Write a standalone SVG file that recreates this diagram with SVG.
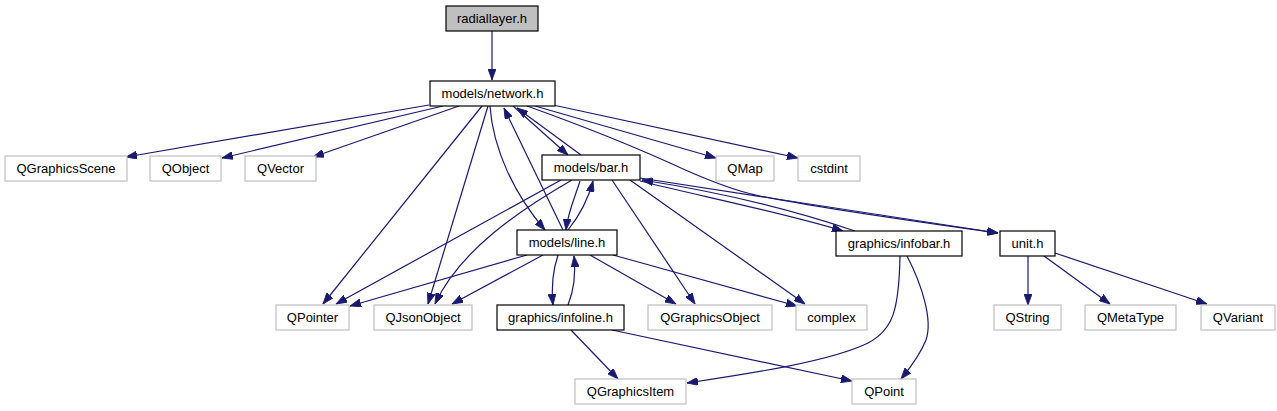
<svg xmlns="http://www.w3.org/2000/svg" width="1277" height="411" viewBox="0 0 1277 411">
<defs>
<style>
.n rect{fill:#fff;stroke:#000;stroke-width:1.2}
.x rect{fill:#fff;stroke:#bfbfbf;stroke-width:1.2}
.r rect{fill:#bfbfbf;stroke:#000;stroke-width:1.2}
text{font-family:"Liberation Sans",Arial,sans-serif;font-size:13px;fill:#000;text-anchor:middle}
#edges path{fill:none;stroke:#191970;stroke-width:1.2;marker-end:url(#a)}
</style>
<marker id="a" markerUnits="userSpaceOnUse" markerWidth="11" markerHeight="8" refX="11" refY="4" orient="auto">
<path d="M0,0 L11,4 L0,8 z" fill="#191970" stroke="#191970" stroke-width="0.8"/>
</marker>
</defs>
<rect width="1277" height="411" fill="#fff"/>
<g id="edges">
<path d="M492,31 L492,80"/>
<path d="M429,105 L126,157"/>
<path d="M443,106 L222,158"/>
<path d="M459,106 L313,157"/>
<path d="M535,106 L716,158"/>
<path d="M553,105 L798,158"/>
<path d="M482,106 L323,304"/>
<path d="M488,106 L428,304"/>
<path d="M513,106 L568,155"/>
<path d="M581,155 L517,108"/>
<path d="M490,106 C493,150 515,195 545,230"/>
<path d="M563,230 L504,108"/>
<path d="M527,106 C580,125 630,145 670,163 C700,177 730,190 760,196 C830,210 920,222 998,233"/>
<path d="M580,181 C574,200 568,212 566,230"/>
<path d="M568,230 C580,215 588,200 593,181"/>
<path d="M561,180 L336,304"/>
<path d="M572,180 C520,210 460,250 435,304"/>
<path d="M612,180 L695,304"/>
<path d="M630,180 L805,304"/>
<path d="M640,181 C700,196 780,212 843,231"/>
<path d="M855,231 C790,209 720,192 642,180"/>
<path d="M640,178 L998,233"/>
<path d="M527,255 L350,306"/>
<path d="M543,255 L452,304"/>
<path d="M590,255 L676,304"/>
<path d="M613,255 L797,306"/>
<path d="M558,255 C553,270 551,285 553,305"/>
<path d="M568,305 C574,290 576,275 574,256"/>
<path d="M571,330 L618,379"/>
<path d="M612,330 L852,381"/>
<path d="M900,256 C899,310 893,330 868,343 C830,362 740,375 687,383"/>
<path d="M907,256 C922,285 933,320 926,340 C920,355 910,368 901,379"/>
<path d="M1028,256 L1028,305"/>
<path d="M1044,256 L1110,304"/>
<path d="M1055,253 L1207,304"/>
</g>
<g id="radiallayer" class="r"><rect x="446" y="6" width="92" height="25"/><text x="492" y="23">radiallayer.h</text></g>
<g id="network" class="n"><rect x="430" y="81" width="125" height="25"/><text x="492.5" y="98">models/network.h</text></g>
<g id="QGraphicsScene" class="x"><rect x="5" y="156" width="122" height="25"/><text x="66" y="173">QGraphicsScene</text></g>
<g id="QObject" class="x"><rect x="150" y="156" width="71" height="25"/><text x="185.5" y="173">QObject</text></g>
<g id="QVector" class="x"><rect x="245" y="156" width="71" height="25"/><text x="280.5" y="173">QVector</text></g>
<g id="bar" class="n"><rect x="542" y="155" width="98" height="25"/><text x="591" y="172">models/bar.h</text></g>
<g id="QMap" class="x"><rect x="716" y="156" width="58" height="25"/><text x="745" y="173">QMap</text></g>
<g id="cstdint" class="x"><rect x="798" y="156" width="62" height="25"/><text x="829" y="173">cstdint</text></g>
<g id="line" class="n"><rect x="517" y="230" width="100" height="25"/><text x="567" y="247">models/line.h</text></g>
<g id="infobar" class="n"><rect x="836" y="231" width="126" height="25"/><text x="899" y="248">graphics/infobar.h</text></g>
<g id="unit" class="n"><rect x="1000" y="231" width="55" height="25"/><text x="1027.5" y="248">unit.h</text></g>
<g id="QPointer" class="x"><rect x="276" y="305" width="73" height="25"/><text x="312.5" y="322">QPointer</text></g>
<g id="QJsonObject" class="x"><rect x="374" y="305" width="98" height="25"/><text x="423" y="322">QJsonObject</text></g>
<g id="infoline" class="n"><rect x="497" y="305" width="127" height="25"/><text x="560.5" y="322">graphics/infoline.h</text></g>
<g id="QGraphicsObject" class="x"><rect x="648" y="305" width="124" height="25"/><text x="710" y="322">QGraphicsObject</text></g>
<g id="complex" class="x"><rect x="796" y="305" width="71" height="25"/><text x="831.5" y="322">complex</text></g>
<g id="QString" class="x"><rect x="994" y="305" width="67" height="25"/><text x="1027.5" y="322">QString</text></g>
<g id="QMetaType" class="x"><rect x="1085" y="305" width="91" height="25"/><text x="1130.5" y="322">QMetaType</text></g>
<g id="QVariant" class="x"><rect x="1201" y="305" width="74" height="25"/><text x="1238" y="322">QVariant</text></g>
<g id="QGraphicsItem" class="x"><rect x="575" y="379" width="111" height="25"/><text x="630.5" y="396">QGraphicsItem</text></g>
<g id="QPoint" class="x"><rect x="852" y="379" width="64" height="25"/><text x="884" y="396">QPoint</text></g>
</svg>
